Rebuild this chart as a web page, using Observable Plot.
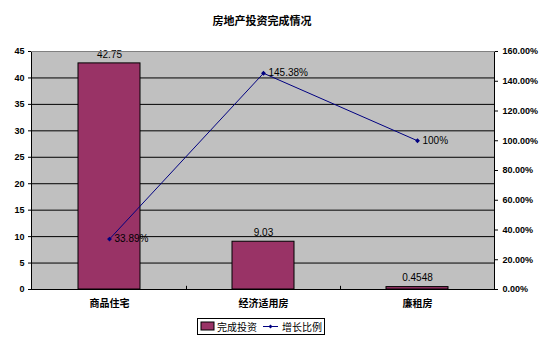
<!DOCTYPE html>
<html><head><meta charset="utf-8">
<script src="https://cdn.jsdelivr.net/npm/d3@7"></script>
<script src="https://cdn.jsdelivr.net/npm/@observablehq/plot@0.6"></script>
<style>
body{margin:0;background:#fff;}
#wrap{position:relative;width:554px;height:341px;font-family:"Liberation Sans",Arial,"Noto Sans CJK SC",sans-serif;}
#title{position:absolute;left:0;width:524px;top:12px;text-align:center;font:bold 11px "Noto Sans CJK SC",sans-serif;color:#000;}
#legend{position:absolute;left:197px;top:318px;width:128px;height:17px;border:1px solid #000;box-sizing:border-box;font:10px "Noto Sans CJK SC",sans-serif;display:flex;align-items:center;}
#wrap svg{position:absolute;left:0;top:0;}
</style></head><body>
<div id="wrap"><div id="title">房地产投资完成情况</div>
<div id="legend">
<svg width="126" height="15" style="position:static">
<rect x="3" y="3" width="13" height="8" fill="#993366" stroke="#000" stroke-width="1"/>
<text x="19" y="11.5" font-size="10" font-family="Noto Sans CJK SC" fill="#000">完成投资</text>
<line x1="65" x2="80" y1="7.5" y2="7.5" stroke="#000080" stroke-width="1"/>
<path d="M72.5,5.5L74.5,7.5L72.5,9.5L70.5,7.5Z" fill="#000080"/>
<text x="84" y="11.5" font-size="10" font-family="Noto Sans CJK SC" fill="#000">增长比例</text>
</svg>
</div>
</div>
<script>
const categories = ["商品住宅", "经济适用房", "廉租房"];
const investment = [42.75, 9.03, 0.4548];
const investmentLabels = ["42.75", "9.03", "0.4548"];
const growth = [0.3389, 1.4538, 1.00];
const growthLabels = ["33.89%", "145.38%", "100%"];
const leftTicks = [0, 5, 10, 15, 20, 25, 30, 35, 40, 45];
const rightTicks = [0, 0.2, 0.4, 0.6, 0.8, 1.0, 1.2, 1.4, 1.6];

const k = 45 / 1.6;
const data = categories.map((c, i) => ({c, v: investment[i], vl: investmentLabels[i], g: growth[i] * k, gl: growthLabels[i]}));

const chart = Plot.plot({
  width: 554, height: 341,
  marginLeft: 31, marginRight: 60, marginTop: 51, marginBottom: 52,
  style: {fontFamily: "Liberation Sans, Arial, sans-serif", background: "transparent"},
  x: {domain: categories, paddingInner: 0.6, paddingOuter: 0.3, label: null},
  y: {domain: [0, 45], label: null},
  marks: [
    Plot.frame({fill: "#c0c0c0", stroke: "none"}),
    Plot.gridY(leftTicks, {stroke: "#000", strokeOpacity: 1, strokeWidth: 1}),
    Plot.barY(data, {x: "c", y: "v", fill: "#993366", stroke: "#000", strokeWidth: 1}),
    Plot.text(data, {x: "c", y: "v", text: "vl", dy: -9, fontSize: 10, fill: "#000"}),
    Plot.line(data, {x: "c", y: "g", stroke: "#000080", strokeWidth: 1}),
    Plot.dot(data, {x: "c", y: "g", symbol: "diamond2", r: 2.2, fill: "#000080", stroke: "none"}),
    Plot.text(data, {x: "c", y: "g", text: "gl", dx: 5, textAnchor: "start", fontSize: 10, fill: "#000"}),
    Plot.frame({stroke: "#000", fill: "none", anchor: "left"}),
    Plot.frame({stroke: "#000", fill: "none", anchor: "right"}),
    Plot.frame({stroke: "#000", fill: "none", anchor: "bottom"}),
    Plot.frame({stroke: "#808080", fill: "none", anchor: "top"}),
    Plot.axisY(leftTicks, {anchor: "left", tickSize: 3, tickPadding: 4, fontWeight: "bold", fontSize: 9, fill: "#000"}),
    Plot.axisY(rightTicks.map(d => d * k), {anchor: "right", tickSize: 3, tickPadding: 5, fontWeight: "bold", fontSize: 9, fill: "#000",
      tickFormat: d => (d / k * 100).toFixed(2) + "%"}),
    Plot.axisX({anchor: "bottom", tickSize: 0, tickPadding: 10, fontWeight: "bold", fontSize: 10, fontFamily: "Noto Sans CJK SC", fill: "#000"}),
    Plot.ruleX(categories.slice(1), {x: d => d, dx: -77, y1: 0, y2: 0.6, stroke: "#000"})
  ]
});
document.getElementById("wrap").appendChild(chart);
</script>
</body></html>
